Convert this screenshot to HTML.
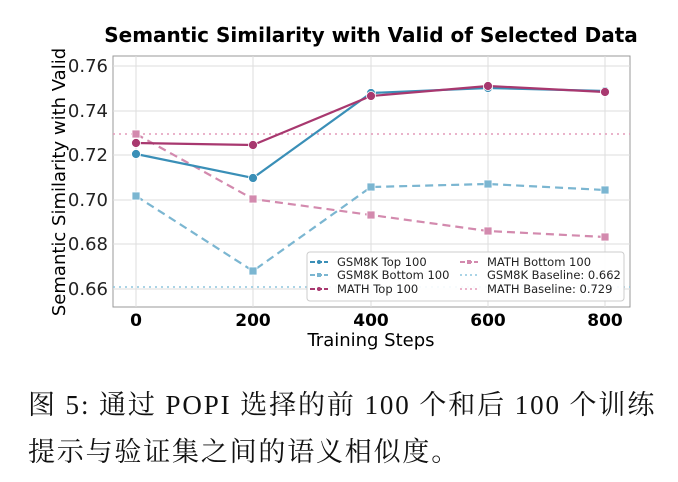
<!DOCTYPE html>
<html><head><meta charset="utf-8"><style>
body{margin:0;background:#fff;width:678px;height:482px;overflow:hidden}
.cap{position:absolute;left:28px;font-family:"Liberation Serif","Noto Serif CJK SC",serif;font-size:27px;line-height:30px;color:#111;white-space:nowrap}
</style></head><body>
<svg width="678" height="380" style="position:absolute;left:0;top:0" font-family="Liberation Sans, DejaVu Sans, sans-serif">
<text x="371" y="42" text-anchor="middle" font-size="20" font-weight="bold" font-family="DejaVu Sans, sans-serif">Semantic Similarity with Valid of Selected Data</text>
<rect x="113" y="56" width="517" height="251" fill="#fff" stroke="#999" stroke-width="1"/>
<g stroke="#ddd" stroke-width="1">
<line x1="113" x2="630" y1="66" y2="66"/><line x1="113" x2="630" y1="111" y2="111"/><line x1="113" x2="630" y1="155" y2="155"/><line x1="113" x2="630" y1="200" y2="200"/><line x1="113" x2="630" y1="244" y2="244"/><line x1="113" x2="630" y1="289" y2="289"/>
<line x1="136" x2="136" y1="56" y2="307"/><line x1="253" x2="253" y1="56" y2="307"/><line x1="371" x2="371" y1="56" y2="307"/><line x1="488" x2="488" y1="56" y2="307"/><line x1="605" x2="605" y1="56" y2="307"/>
</g>
<g font-size="18" text-anchor="end" fill="#222" font-family="DejaVu Sans, sans-serif">
<text x="108" y="72">0.76</text><text x="108" y="117">0.74</text><text x="108" y="161">0.72</text><text x="108" y="206">0.70</text><text x="108" y="250">0.68</text><text x="108" y="295">0.66</text>
</g>
<g font-size="17" font-weight="bold" text-anchor="middle" font-family="DejaVu Sans, sans-serif">
<text x="136" y="326">0</text><text x="253" y="326">200</text><text x="371" y="326">400</text><text x="488" y="326">600</text><text x="605" y="326">800</text>
</g>
<text x="371" y="346" text-anchor="middle" font-size="18" font-family="DejaVu Sans, sans-serif">Training Steps</text>
<text transform="translate(65,182) rotate(-90)" text-anchor="middle" font-size="18" font-family="DejaVu Sans, sans-serif">Semantic Similarity with Valid</text>
<line x1="113" x2="630" y1="287" y2="287" stroke="#8ec5de" stroke-width="1.5" stroke-dasharray="2,4"/>
<line x1="113" x2="630" y1="134" y2="134" stroke="#e49ab9" stroke-width="1.5" stroke-dasharray="2,4"/>
<g fill="none" stroke-width="2.2">
<polyline points="136,196 253,271 371,187 488,184 605,190" stroke="#7bb6d1" stroke-dasharray="8,5"/>
<polyline points="136,134 253,199 371,215 488,231 605,237" stroke="#d38aae" stroke-dasharray="8,5"/>
<polyline points="136,154 253,178 371,93 488,88 605,91" stroke="#3a8fb7"/>
<polyline points="136,143 253,145 371,96 488,86 605,92" stroke="#a8386f"/>
</g>
<g fill="#7bb6d1" stroke="#fff" stroke-width="0.8"><rect x="132" y="192" width="8" height="8"/><rect x="249" y="267" width="8" height="8"/><rect x="367" y="183" width="8" height="8"/><rect x="484" y="180" width="8" height="8"/><rect x="601" y="186" width="8" height="8"/></g>
<g fill="#d38aae" stroke="#fff" stroke-width="0.8"><rect x="132" y="130" width="8" height="8"/><rect x="249" y="195" width="8" height="8"/><rect x="367" y="211" width="8" height="8"/><rect x="484" y="227" width="8" height="8"/><rect x="601" y="233" width="8" height="8"/></g>
<g fill="#3a8fb7" stroke="#fff" stroke-width="0.8"><circle cx="136" cy="154" r="4.5"/><circle cx="253" cy="178" r="4.5"/><circle cx="371" cy="93" r="4.5"/><circle cx="488" cy="88" r="4.5"/><circle cx="605" cy="91" r="4.5"/></g>
<g fill="#a8386f" stroke="#fff" stroke-width="0.8"><circle cx="136" cy="143" r="4.5"/><circle cx="253" cy="145" r="4.5"/><circle cx="371" cy="96" r="4.5"/><circle cx="488" cy="86" r="4.5"/><circle cx="605" cy="92" r="4.5"/></g>
<rect x="307" y="252" width="317" height="49" rx="3" fill="#fff" fill-opacity="0.9" stroke="#ccc"/>
<g font-size="11.5" fill="#222" font-family="DejaVu Sans, sans-serif">
<line x1="310" x2="328" y1="262" y2="262" stroke="#3a8fb7" stroke-width="2" stroke-dasharray="5,2"/><circle cx="319" cy="262" r="2" fill="#3a8fb7"/><text x="337" y="266">GSM8K Top 100</text>
<line x1="310" x2="328" y1="275" y2="275" stroke="#7bb6d1" stroke-width="2" stroke-dasharray="5,2"/><rect x="317" y="273" width="4" height="4" fill="#7bb6d1"/><text x="337" y="279">GSM8K Bottom 100</text>
<line x1="310" x2="328" y1="289" y2="289" stroke="#a8386f" stroke-width="2" stroke-dasharray="5,2"/><circle cx="319" cy="289" r="2" fill="#a8386f"/><text x="337" y="293">MATH Top 100</text>
<line x1="460" x2="478" y1="262" y2="262" stroke="#d38aae" stroke-width="2" stroke-dasharray="5,2"/><rect x="467" y="260" width="4" height="4" fill="#d38aae"/><text x="487" y="266">MATH Bottom 100</text>
<line x1="460" x2="478" y1="275" y2="275" stroke="#8ec5de" stroke-width="1.5" stroke-dasharray="2,3"/><text x="487" y="279">GSM8K Baseline: 0.662</text>
<line x1="460" x2="478" y1="289" y2="289" stroke="#e49ab9" stroke-width="1.5" stroke-dasharray="2,3"/><text x="487" y="293">MATH Baseline: 0.729</text>
</g>
</svg>
<div class="cap" style="top:390px;letter-spacing:1.9px">图 5: 通过 POPI 选择的前 100 个和后 100 个训练</div>
<div class="cap" style="top:437px;letter-spacing:1.8px">提示与验证集之间的语义相似度。</div>
</body></html>
